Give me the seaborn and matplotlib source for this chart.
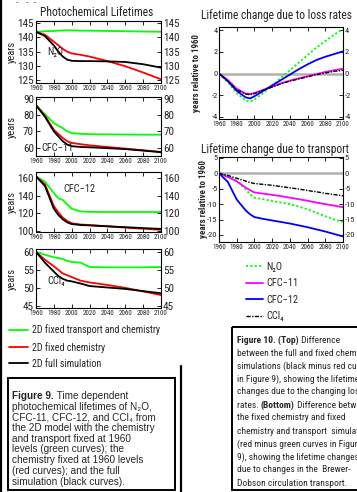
import matplotlib
matplotlib.use('Agg')
import numpy as np
import pandas as pd
import seaborn as sns
import matplotlib.pyplot as plt
from matplotlib import font_manager as fm
from matplotlib.patches import Rectangle
from matplotlib.lines import Line2D

# ---------------- data ----------------
years = [1960, 1970, 1980, 1985, 1990, 1995, 2000, 2010, 2020, 2040, 2060, 2080, 2100]

n2o_fixed_all = [142.0, 142.2, 142.3, 142.4, 142.5, 142.5, 142.5, 142.4, 142.4, 142.3, 142.2, 142.1, 142.0]
n2o_fixed_chem = [142.0, 141.0, 138.5, 137.3, 136.0, 135.0, 134.4, 133.9, 133.3, 131.7, 129.9, 127.7, 125.3]
n2o_full = [142.0, 140.5, 137.2, 135.0, 133.3, 132.2, 131.8, 131.7, 131.7, 131.6, 131.4, 130.6, 129.4]

cfc11_fixed_all = [86.0, 80.5, 75.0, 73.5, 72.0, 70.0, 69.0, 68.5, 68.3, 68.2, 68.1, 68.0, 68.0]
cfc11_fixed_chem = [86.0, 79.5, 71.0, 68.5, 66.0, 64.0, 63.0, 62.2, 61.5, 60.5, 59.5, 58.5, 57.5]
cfc11_full = [86.0, 79.0, 70.0, 67.0, 64.0, 62.0, 61.0, 60.5, 60.3, 59.8, 59.2, 58.3, 57.3]

cfc12_fixed_all = [162.0, 156.0, 143.0, 137.0, 135.0, 130.0, 125.0, 122.0, 121.5, 121.3, 121.3, 121.3, 121.3]
cfc12_fixed_chem = [162.0, 153.0, 128.0, 121.0, 115.0, 111.0, 108.5, 107.0, 106.5, 105.0, 103.5, 102.2, 101.0]
cfc12_full = [162.0, 151.0, 125.0, 118.0, 113.0, 109.5, 107.5, 106.5, 106.0, 105.0, 104.0, 103.0, 102.0]

ccl4_fixed_all = [60.0, 59.2, 58.5, 58.3, 58.0, 57.5, 57.2, 57.0, 55.8, 55.7, 55.7, 55.7, 55.8]
ccl4_fixed_chem = [60.0, 57.8, 56.0, 55.0, 54.0, 53.5, 53.0, 52.0, 51.5, 50.8, 50.0, 49.0, 48.0]
ccl4_full = [60.0, 57.0, 54.5, 53.3, 52.5, 52.0, 51.8, 51.2, 50.5, 50.1, 49.7, 49.1, 48.5]

years_r = [1960, 1970, 1980, 1990, 1995, 2000, 2010, 2020, 2030, 2040, 2050, 2060, 2070, 2080, 2090, 2100]
loss_n2o = [0, -0.8, -1.8, -2.5, -2.6, -2.4, -1.8, -1.1, -0.4, 0.3, 1.0, 1.7, 2.4, 3.0, 3.6, 4.1]
loss_cfc11 = [0, -0.6, -1.4, -1.85, -1.9, -1.8, -1.5, -1.2, -0.9, -0.65, -0.45, -0.25, -0.05, 0.15, 0.3, 0.45]
loss_cfc12 = [0, -0.7, -1.6, -2.2, -2.3, -2.1, -1.6, -1.1, -0.6, -0.1, 0.4, 0.85, 1.25, 1.55, 1.8, 2.05]
loss_ccl4 = [0, -0.7, -1.5, -1.9, -1.95, -1.85, -1.55, -1.25, -0.95, -0.7, -0.5, -0.3, -0.1, 0.05, 0.2, 0.3]

trans_n2o = [0, -0.7, -2.4, -5.2, -6.8, -7.9, -8.4, -9.0, -9.5, -10.0, -10.8, -11.7, -12.8, -13.9, -15.0, -15.8]
trans_cfc11 = [0, -1.2, -2.6, -4.6, -5.5, -6.2, -6.6, -7.0, -7.4, -7.9, -8.4, -8.9, -9.5, -10.0, -10.5, -11.0]
trans_cfc12 = [0, -2.8, -8.5, -12.0, -13.3, -14.2, -14.8, -15.3, -15.8, -16.3, -16.9, -17.5, -18.2, -18.9, -19.7, -20.5]
trans_ccl4 = [0, -0.7, -1.6, -2.5, -3.0, -3.3, -3.6, -3.9, -4.3, -4.7, -5.1, -5.6, -6.0, -6.5, -6.9, -7.3]

xticks = [1960, 1980, 2000, 2020, 2040, 2060, 2080, 2100]
left_series_labels = ['2D fixed transport and chemistry', '2D fixed chemistry', '2D full simulation']
right_series_labels = ['N\u2082O', 'CFC\u221211', 'CFC\u221212', 'CCl\u2084']

# ---------------- fonts ----------------
sns.set_theme(style='white')
plt.rcParams['font.family'] = ['Liberation Sans', 'DejaVu Sans']
plt.rcParams['axes.unicode_minus'] = False

narrow = None
for fam in ['Liberation Sans Narrow', 'Roboto Condensed']:
    try:
        fm.findfont(fm.FontProperties(family=fam), fallback_to_default=False)
        narrow = fam
        break
    except Exception:
        pass
nstretch = 'normal'
if narrow is None:
    p = fm.findfont(fm.FontProperties(family='DejaVu Sans', stretch='condensed'))
    narrow = 'DejaVu Sans'
    if 'Condensed' in p:
        nstretch = 'condensed'
NFAM = [narrow, 'DejaVu Sans']


def nfp(size, weight='normal'):
    return fm.FontProperties(family=NFAM, stretch=nstretch, size=size, weight=weight)


W, H = 357, 492
fig = plt.figure(figsize=(W / 100, H / 100), dpi=100)
fig.patch.set_facecolor('white')


def rect(x0, y0, x1, y1):
    return [x0 / W, 1 - y1 / H, (x1 - x0) / W, (y1 - y0) / H]


def fx(x):
    return x / W


def fy(y):
    return 1 - y / H


GREEN, RED, BLACK = '#00ff00', '#ff0000', '#000000'
MAG, BLUE = '#ff00ff', '#0000ff'


def style_axes(ax, ylim, yticks, ytl_size=8, xtl_size=5):
    ax.set_xlim(1960, 2100)
    ax.set_ylim(*ylim)
    ax.set_xticks(xticks)
    ax.set_yticks(yticks)
    ax.set_xlabel('')
    ax.set_ylabel('')
    for s in ax.spines.values():
        s.set_visible(True)
        s.set_color('black')
        s.set_linewidth(0.8)
    ax.tick_params(axis='both', which='major', direction='in', length=3, width=0.6,
                   color='black', top=True, right=True, left=True, bottom=True,
                   labelright=True, pad=1.5)
    for lab in ax.get_xticklabels():
        lab.set_fontproperties(nfp(xtl_size))
    for lab in ax.get_yticklabels():
        lab.set_fontproperties(nfp(ytl_size))
    ax.set_facecolor('white')
    ax.grid(False)


# ---------------- left panels ----------------
left_specs = [
    ((36, 21, 161, 83), n2o_fixed_all, n2o_fixed_chem, n2o_full, (124, 145.8), [125, 130, 135, 140, 145], 'N\u2082O', (0.09, 0.5)),
    ((36, 97, 161, 156), cfc11_fixed_all, cfc11_fixed_chem, cfc11_full, (55, 91), [60, 70, 80, 90], 'CFC\u221211', (0.04, 0.14)),
    ((36, 172, 161, 232), cfc12_fixed_all, cfc12_fixed_chem, cfc12_full, (98.5, 167), [100, 120, 140, 160], 'CFC\u221212', (0.22, 0.72)),
    ((36, 249, 161, 308), ccl4_fixed_all, ccl4_fixed_chem, ccl4_full, (44.4, 60.8), [45, 50, 55, 60], 'CCl\u2084', (0.09, 0.45)),
]
left_axes = []
for (r, g, rd, bk, ylim, yt, name, pos) in left_specs:
    ax = fig.add_axes(rect(*r))
    sns.lineplot(x=years, y=g, ax=ax, color=GREEN, lw=1.3, label=left_series_labels[0])
    sns.lineplot(x=years, y=rd, ax=ax, color=RED, lw=1.3, label=left_series_labels[1])
    sns.lineplot(x=years, y=bk, ax=ax, color=BLACK, lw=1.3, label=left_series_labels[2])
    ax.get_legend().remove()
    style_axes(ax, ylim, yt)
    ax.text(pos[0], pos[1], name, transform=ax.transAxes, ha='left', va='center', fontproperties=nfp(7.5))
    fig.text(fx(12), fy((r[1] + r[3]) / 2), 'years', rotation=90, ha='center', va='center',
             fontproperties=nfp(7.5))
    left_axes.append(ax)

fig.text(fx(97), fy(12), 'Photochemical Lifetimes', ha='center', va='center', fontproperties=nfp(8.3))

h, l = left_axes[-1].get_legend_handles_labels()
fig.legend(h, l, loc='upper left', bbox_to_anchor=(fx(9), fy(324.5)), frameon=False,
           handlelength=1.9, handletextpad=0.4, labelspacing=0.62, borderpad=0, borderaxespad=0,
           prop=nfp(7.2))

# ---------------- right panels ----------------
right_specs = [
    ((219, 27, 343, 119), [loss_n2o, loss_cfc11, loss_cfc12, loss_ccl4], (-4.2, 4.3), [-4, -2, 0, 2, 4],
     'Lifetime change due to loss rates', 15, 196),
    ((219, 157, 343, 242), [trans_n2o, trans_cfc11, trans_cfc12, trans_ccl4], (-22.3, 5.3), [-20, -15, -10, -5, 0, 5],
     'Lifetime change due to transport', 149, 203),
]
styles = [dict(color=GREEN, ls=(0, (1.2, 1.2)), lw=1.3),
          dict(color=MAG, ls='-', lw=1.3),
          dict(color=BLUE, ls='-', lw=1.3),
          dict(color=BLACK, ls=(0, (3, 1, 1, 1)), lw=1.0)]
right_axes = []
for (r, series, ylim, yt, title, ty, ylx) in right_specs:
    ax = fig.add_axes(rect(*r))
    ax.axhline(0, color='#b0b0b0', lw=1.8, zorder=1)
    for s, st, lab in zip(series, styles, right_series_labels):
        sns.lineplot(x=years_r, y=s, ax=ax, label=lab, zorder=3, **st)
    ax.get_legend().remove()
    style_axes(ax, ylim, yt, ytl_size=6.0)
    ax.tick_params(axis='y', pad=1.0)
    fig.text(fx(201), fy(ty), title, ha='left', va='center', fontproperties=nfp(8.3))
    fig.text(fx(ylx), fy((r[1] + r[3]) / 2), 'years relative to 1960', rotation=90, ha='center',
             va='center', fontproperties=nfp(6.4, 'bold'))
    right_axes.append(ax)

h, l = right_axes[-1].get_legend_handles_labels()
fig.legend(h, l, loc='upper left', bbox_to_anchor=(fx(246), fy(262)), frameon=False,
           handlelength=1.6, handletextpad=0.35, labelspacing=0.62, borderpad=0, borderaxespad=0,
           prop=nfp(7.5))

# ---------------- captions ----------------
ov = fig.add_axes([0, 0, 1, 1], zorder=-1)
ov.set_xlim(0, W)
ov.set_ylim(H, 0)
ov.axis('off')

ov.add_patch(Rectangle((7.5, 378), 167, 112, fill=False, ec='black', lw=1.4))
ov.add_patch(Rectangle((232, 327), 140, 163, fill=False, ec='black', lw=1.4))
ov.add_line(Line2D([1.2, 1.2], [0, H], color='black', lw=1.6))
ov.add_line(Line2D([181, 181], [366, H], color='black', lw=1.6))
ov.text(16, 3, '-   -  -', fontsize=6, ha='left', va='center')

CAP = ['Liberation Sans', 'DejaVu Sans']


def rich_line(x, y, parts, size, fam):
    prev = None
    for txt, wt in parts:
        if prev is None:
            prev = ov.text(x, y, txt, fontsize=size, weight=wt, family=fam, ha='left', va='center')
        else:
            prev = ov.annotate(txt, xy=(1, 0), xycoords=prev, xytext=(0, 0), textcoords='offset points',
                               fontsize=size, weight=wt, family=fam, ha='left', va='bottom')


left_caption = [
    [('Figure 9.', 'bold'), (' Time dependent', 'normal')],
    [('photochemical lifetimes of N\u2082O,', 'normal')],
    [('CFC-11, CFC-12, and CCl\u2084 from', 'normal')],
    [('the 2D model with the chemistry', 'normal')],
    [('and transport fixed at 1960', 'normal')],
    [('levels (green curves); the', 'normal')],
    [('chemistry fixed at 1960 levels', 'normal')],
    [('(red curves); and the full', 'normal')],
    [('simulation (black curves).', 'normal')],
]
right_caption = [
    [('Figure 10. (Top)', 'bold'), (' Difference', 'normal')],
    [('between the full and fixed chemistry', 'normal')],
    [('simulations (black minus red curves', 'normal')],
    [('in Figure 9), showing the lifetime', 'normal')],
    [('changes due to the changing loss', 'normal')],
    [('rates. ', 'normal'), ('(Bottom)', 'bold'), (' Difference between', 'normal')],
    [('the fixed chemistry and fixed', 'normal')],
    [('chemistry and transport  simulations', 'normal')],
    [('(red minus green curves in Figure', 'normal')],
    [('9), showing the lifetime changes', 'normal')],
    [('due to changes in the  Brewer-', 'normal')],
    [('Dobson circulation transport.', 'normal')],
]
for i, parts in enumerate(left_caption):
    rich_line(12, 396 + i * 10.7, parts, 7.2, CAP)
for i, parts in enumerate(right_caption):
    rich_line(237, 340 + i * 13.0, parts, 6.8, NFAM)

fig.savefig('out.png', dpi=100, facecolor='white')
